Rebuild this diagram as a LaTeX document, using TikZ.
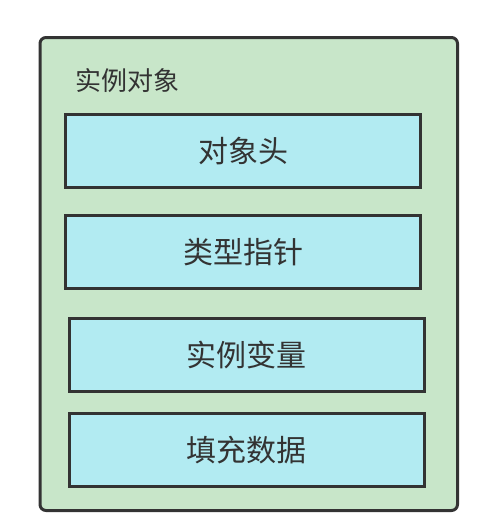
\documentclass[tikz,border=0pt]{standalone}
\usepackage{fontspec}
\newfontfamily\cjk{Noto Sans CJK SC}
\definecolor{objgreen}{HTML}{C8E6C9}
\definecolor{fieldblue}{HTML}{B2EBF2}
\definecolor{edgegray}{HTML}{333333}
\begin{document}
\begin{tikzpicture}[x=1pt, y=-1pt, line width=3pt,
    field/.style={draw=edgegray, fill=fieldblue, minimum width=355pt, minimum height=73pt, inner sep=0pt, text=edgegray, font=\cjk\fontsize{30}{34}\selectfont}]
    \useasboundingbox (0,0) rectangle (495,530);
    
    % outer object
    \node[draw=edgegray, fill=objgreen, rounded corners=6pt, minimum width=417.5pt, minimum height=473pt, inner sep=0pt] (obj) at (248.75,274) {};
    \node[anchor=west, inner sep=0pt, text=edgegray, font=\cjk\fontsize{26}{30}\selectfont] (title) at (74,81) {实例对象};
    
    % parts
    \node[field] (header) at (243,151) {对象头};
    \node[field] (klass) at (243,252) {类型指针};
    \node[field] (fields) at (246.5,354.5) {实例变量};
    \node[field] (padding) at (246.5,450) {填充数据};
    
\end{tikzpicture}
\end{document}
